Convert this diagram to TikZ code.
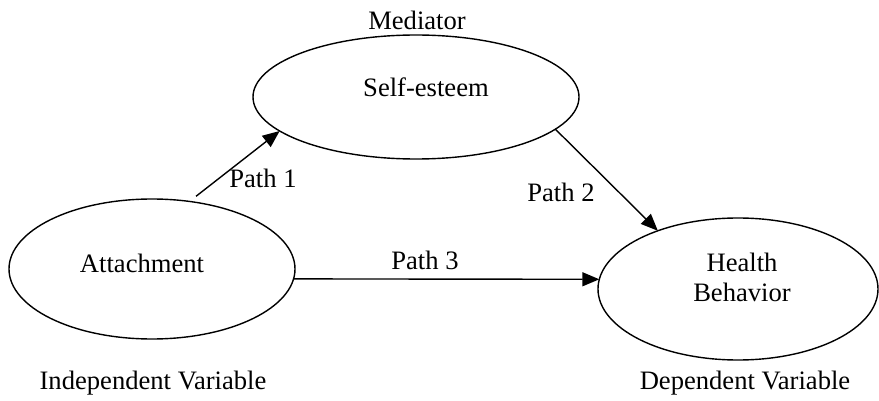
\documentclass[tikz,border=0pt]{standalone}
\usepackage{fontspec}
\setmainfont{Liberation Serif}
\usetikzlibrary{shapes.geometric,arrows.meta}
\begin{document}
\begin{tikzpicture}[x=0.5pt,y=-0.5pt,
 ell/.style={draw, ellipse, line width=0.7pt, inner sep=0pt, outer sep=0pt},
 txt/.style={font=\fontsize{13.3}{15}\selectfont, inner sep=0pt},
 arr/.style={line width=0.7pt, -{Triangle[length=8.5pt,width=7pt]}}]
\useasboundingbox (0,0) rectangle (879,401);
\node[ell, minimum width=163pt, minimum height=62pt] (self) at (416,97) {};
\node[ell, minimum width=143pt, minimum height=70pt] (att) at (152,269) {};
\node[ell, minimum width=140pt, minimum height=71pt] (hb) at (738,289) {};
\node[txt] (selft) at (426,87) {Self-esteem};
\node[txt] (attt) at (142,263) {Attachment};
\node[txt, align=center] (hbt) at (742,277) {Health\\Behavior};
\node[txt] (med) at (417,20) {Mediator};
\node[txt] (iv) at (153,383) {Independent Variable};
\node[txt] (dv) at (745,383) {Dependent Variable};
\draw[arr, shorten <=4.2pt] (att.61.3) -- (self.194.3);
\draw[arr] (self.-13.8) -- (hb.144.3);
\draw[arr] (att.-4.45) -- (hb.176.3);
\node[txt] (p1) at (263,178) {Path 1};
\node[txt] (p2) at (561,192) {Path 2};
\node[txt] (p3) at (425,260) {Path 3};
\end{tikzpicture}
\end{document}
